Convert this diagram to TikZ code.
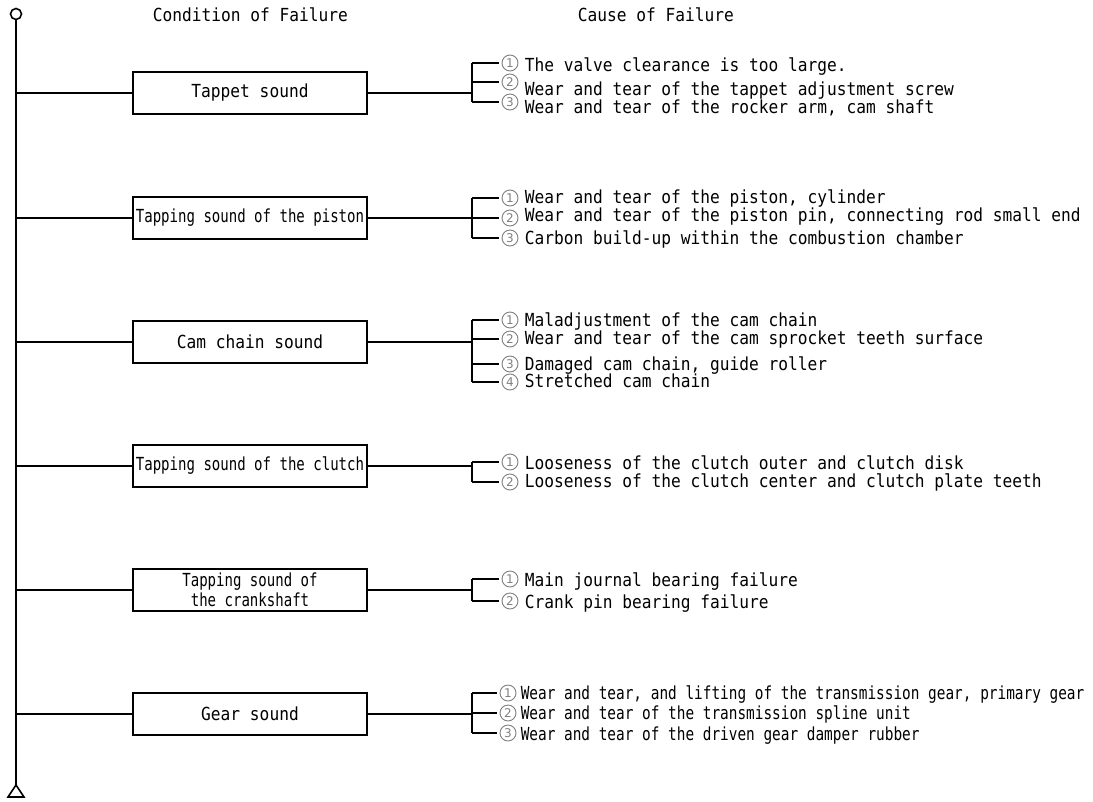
\documentclass[tikz,border=0pt]{standalone}
\usepackage{fontspec}
\setmainfont[FakeStretch=0.9]{DejaVu Sans Mono}
\newfontfamily\boxnarrow[FakeStretch=0.78]{DejaVu Sans Mono}
\newfontfamily\causenarrow[FakeStretch=0.80]{DejaVu Sans Mono}
\newfontfamily\digitfont{DejaVu Sans}
\begin{document}
\begin{tikzpicture}[x=1pt,y=-1pt,
  line width=1.6pt,
  every node/.style={font=\fontsize{18}{20}\selectfont},
  cond/.style={draw, minimum width=234pt, minimum height=42pt, inner sep=0pt, align=center},
  num/.style={circle, draw=black!50, line width=0.9pt, text=black!50, minimum size=16pt,
    inner sep=0pt, font=\digitfont\fontsize{12}{12}\selectfont},
  cause/.style={anchor=base west, inner sep=0pt},
  head/.style={anchor=base west, inner sep=0pt},
  tick/.style={shorten >=3pt}]
\useasboundingbox (0,0) rectangle (1093,801);
\fill[white] (0,0) rectangle (1093,801);

% headings
\node[head] (h1) at (152,21) {Condition of Failure};
\node[head] (h2) at (577,21) {Cause of Failure};

% spine with its end marks
\node[draw, circle, minimum size=11pt, inner sep=0pt] (top) at (16,14) {};
\coordinate (apex) at (16,785);
\draw[line join=miter] (apex) -- (8,797) -- (24,797) -- cycle;
\draw (top.south) -- (apex);

% conditions
\node[cond] (c1) at (250,93) {Tappet sound};
\node[cond] (c2) at (250,218) {\boxnarrow Tapping sound of the piston};
\node[cond] (c3) at (250,342) {Cam chain sound};
\node[cond] (c4) at (250,466) {\boxnarrow Tapping sound of the clutch};
\node[cond] (c5) at (250,590) {\boxnarrow Tapping sound of\\\boxnarrow the crankshaft};
\node[cond] (c6) at (250,714) {Gear sound};

\foreach \i/\y in {1/93,2/218,3/342,4/466,5/590,6/714}{
  \coordinate (s\i) at (16,\y);
  \coordinate (j\i) at (472,\y);
  \draw (s\i) -- (c\i.west);
  \draw (c\i.east) -- (j\i);
}

% causes: tappet sound
\coordinate (t11) at (472,63); \coordinate (t12) at (472,82); \coordinate (t13) at (472,102);
\node[num] (n11) at (510,63) {1};
\node[num] (n12) at (510,82) {2};
\node[num] (n13) at (510,102) {3};
\node[cause] (k11) at (524,71) {The valve clearance is too large.};
\node[cause] (k12) at (524,95) {Wear and tear of the tappet adjustment screw};
\node[cause] (k13) at (524,113) {Wear and tear of the rocker arm, cam shaft};
\draw (t11) -- (t13);
\foreach \k in {1,2,3}{\draw[tick] (t1\k) -- (n1\k.west);}

% causes: piston
\coordinate (t21) at (472,198); \coordinate (t22) at (472,218); \coordinate (t23) at (472,238);
\node[num] (n21) at (510,198) {1};
\node[num] (n22) at (510,218) {2};
\node[num] (n23) at (510,238) {3};
\node[cause] (k21) at (524,203) {Wear and tear of the piston, cylinder};
\node[cause] (k22) at (524,221) {Wear and tear of the piston pin, connecting rod small end};
\node[cause] (k23) at (524,244) {Carbon build-up within the combustion chamber};
\draw (t21) -- (t23);
\foreach \k in {1,2,3}{\draw[tick] (t2\k) -- (n2\k.west);}

% causes: cam chain
\coordinate (t31) at (472,320); \coordinate (t32) at (472,339); \coordinate (t33) at (472,364); \coordinate (t34) at (472,382);
\node[num] (n31) at (510,320) {1};
\node[num] (n32) at (510,339) {2};
\node[num] (n33) at (510,364) {3};
\node[num] (n34) at (510,382) {4};
\node[cause] (k31) at (524,326) {Maladjustment of the cam chain};
\node[cause] (k32) at (524,344) {Wear and tear of the cam sprocket teeth surface};
\node[cause] (k33) at (524,370) {Damaged cam chain, guide roller};
\node[cause] (k34) at (524,387) {Stretched cam chain};
\draw (t31) -- (t34);
\foreach \k in {1,2,3,4}{\draw[tick] (t3\k) -- (n3\k.west);}

% causes: clutch
\coordinate (t41) at (472,462); \coordinate (t42) at (472,482);
\node[num] (n41) at (510,462) {1};
\node[num] (n42) at (510,482) {2};
\node[cause] (k41) at (524,469) {Looseness of the clutch outer and clutch disk};
\node[cause] (k42) at (524,487) {Looseness of the clutch center and clutch plate teeth};
\draw (t41) -- (t42);
\foreach \k in {1,2}{\draw[tick] (t4\k) -- (n4\k.west);}

% causes: crankshaft
\coordinate (t51) at (472,579); \coordinate (t52) at (472,601);
\node[num] (n51) at (510,579) {1};
\node[num] (n52) at (510,601) {2};
\node[cause] (k51) at (524,586) {Main journal bearing failure};
\node[cause] (k52) at (524,608) {Crank pin bearing failure};
\draw (t51) -- (t52);
\foreach \k in {1,2}{\draw[tick] (t5\k) -- (n5\k.west);}

% causes: gear
\coordinate (t61) at (472,693); \coordinate (t62) at (472,713); \coordinate (t63) at (472,733);
\node[num] (n61) at (508,693) {1};
\node[num] (n62) at (508,713) {2};
\node[num] (n63) at (508,733) {3};
\node[cause] (k61) at (520,699) {\causenarrow Wear and tear, and lifting of the transmission gear, primary gear};
\node[cause] (k62) at (520,719) {\causenarrow Wear and tear of the transmission spline unit};
\node[cause] (k63) at (520,740) {\causenarrow Wear and tear of the driven gear damper rubber};
\draw (t61) -- (t63);
\foreach \k in {1,2,3}{\draw[tick] (t6\k) -- (n6\k.west);}
\end{tikzpicture}
\end{document}
